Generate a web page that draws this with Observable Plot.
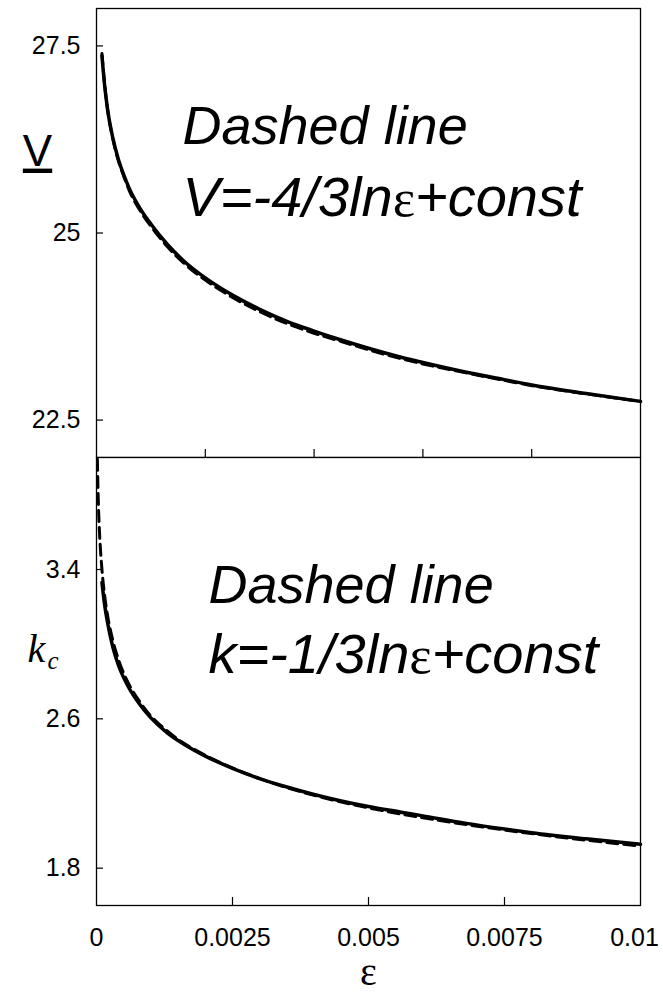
<!DOCTYPE html>
<html>
<head>
<meta charset="utf-8">
<script src="https://cdn.jsdelivr.net/npm/d3@7"></script>
<script src="https://cdn.jsdelivr.net/npm/@observablehq/plot@0.6"></script>
<style>
  body { margin: 0; background: #fff; }
  #wrap { position: relative; width: 663px; height: 998px; overflow: hidden; background: #fff; }
  #wrap svg { position: absolute; left: 0; }
</style>
</head>
<body>
<div id="wrap"></div>
<script>
// ---------- data ----------
const epsV = [0.0001, 0.00015, 0.0002, 0.0003, 0.0004, 0.0005, 0.0006, 0.0008, 0.001, 0.0013, 0.0016, 0.002, 0.0025, 0.003, 0.0035, 0.004, 0.0045, 0.005, 0.0056, 0.006, 0.0068, 0.0075, 0.008, 0.009, 0.01];
const vSolid = [27.37, 26.97, 26.67, 26.27, 25.99, 25.78, 25.60, 25.33, 25.12, 24.85, 24.63, 24.40, 24.17, 23.98, 23.82, 23.69, 23.57, 23.46, 23.34, 23.27, 23.14, 23.04, 22.97, 22.855, 22.75];
const vDashed = [27.40, 26.98, 26.67, 26.26, 25.97, 25.76, 25.57, 25.30, 25.09, 24.82, 24.60, 24.37, 24.14, 23.95, 23.79, 23.66, 23.55, 23.44, 23.32, 23.25, 23.13, 23.03, 22.96, 22.85, 22.75];

const epsK = [0.0001, 0.00015, 0.0002, 0.0003, 0.0004, 0.00057, 0.0008, 0.001, 0.0013, 0.0016, 0.002, 0.0025, 0.003, 0.0035, 0.004, 0.0045, 0.005, 0.0056, 0.006, 0.0068, 0.0075, 0.008, 0.009, 0.01];
const kSolid = [3.33, 3.21, 3.12, 2.985, 2.89, 2.78, 2.675, 2.605, 2.525, 2.465, 2.40, 2.335, 2.28, 2.235, 2.195, 2.16, 2.13, 2.10, 2.08, 2.04, 2.01, 1.99, 1.957, 1.928];
const epsKDash = [0.000016, 0.00002, 0.00003, 0.00005, 0.00007, 0.0001, 0.00015, 0.0002, 0.0003, 0.0004, 0.00057, 0.0008, 0.001, 0.0013, 0.0016, 0.002, 0.0025, 0.003, 0.004, 0.005, 0.006, 0.007, 0.008, 0.009, 0.01];
const kDashed = [3.99, 3.93, 3.80, 3.63, 3.52, 3.40, 3.26, 3.16, 3.02, 2.92, 2.80, 2.69, 2.615, 2.535, 2.47, 2.405, 2.337, 2.28, 2.19, 2.123, 2.07, 2.025, 1.985, 1.95, 1.918];

const yTicksV = [27.5, 25, 22.5];
const yLabelsV = ["27.5", "25", "22.5"];
const yTicksK = [3.4, 2.6, 1.8];
const yLabelsK = ["3.4", "2.6", "1.8"];
const xTicksTop = [0.002, 0.004, 0.006, 0.008];
const xTicksBottom = [0, 0.0025, 0.005, 0.0075, 0.01];
const xLabelsBottom = ["0", "0.0025", "0.005", "0.0075", "0.01"];

const annTop = ["Dashed line", "V=-4/3lnε+const"];
const annBottom = ["Dashed line", "k=-1/3lnε+const"];
const xTitle = "ε";
const yTitleV = "V";
const yTitleK = "k";
const yTitleKSub = "c";

// ---------- helpers ----------
const rows = (xs, ys) => xs.map((x, i) => ({x, y: ys[i]}));
const font = "'Liberation Sans', Arial, Helvetica, sans-serif";
const serif = "'Liberation Serif', 'Times New Roman', serif";
const W = 663, ML = 96, MR = 23;
const plotW = W - ML - MR;
const tickFont = 25;

function fixEps(svg) {
  d3.select(svg).selectAll("text").each(function () {
    const t = this.textContent;
    if (t.includes("ε") && t.length > 1) {
      const parts = t.split("ε");
      this.textContent = "";
      parts.forEach((p, i) => {
        if (i > 0) d3.select(this).append("tspan")
          .attr("font-family", serif).attr("font-style", "normal").attr("font-size", "0.95em").text("ε");
        d3.select(this).append("tspan").text(p);
      });
    }
  });
}

// ---------- top panel ----------
const topH = 458;
const topPlot = Plot.plot({
  width: W, height: topH,
  marginTop: 8, marginBottom: 1, marginLeft: ML, marginRight: MR,
  style: {fontFamily: font, fontSize: tickFont + "px", background: "transparent", color: "#000"},
  x: {domain: [0, 0.01], axis: null},
  y: {domain: [22, 28]},
  marks: [
    Plot.frame({stroke: "#000", strokeWidth: 1.3}),
    Plot.ruleY(yTicksV, {stroke: "#000", strokeWidth: 1.2, insetRight: plotW - 7}),
    Plot.ruleX(xTicksTop, {stroke: "#000", strokeWidth: 1.2, insetTop: (topH - 9) - 8}),
    Plot.axisY(yTicksV, {tickSize: 0, tickPadding: 16, fontSize: tickFont, tickFormat: d => yLabelsV[yTicksV.indexOf(d)], label: null}),
    Plot.line(rows(epsV, vDashed), {x: "x", y: "y", stroke: "#000", strokeWidth: 3, strokeDasharray: "11,6", curve: "monotone-x"}),
    Plot.line(rows(epsV, vSolid), {x: "x", y: "y", stroke: "#000", strokeWidth: 3.5, curve: "monotone-x"}),
    Plot.text([yTitleV], {frameAnchor: "top-left", dx: -59, dy: 143, fontSize: 44, fontFamily: font, textAnchor: "middle", lineAnchor: "middle", fill: "#000"}),
    Plot.text([annTop[0]], {frameAnchor: "top-left", dx: 86, dy: 135, fontSize: 54, fontStyle: "italic", fontFamily: font, textAnchor: "start", lineAnchor: "bottom", fill: "#000"}),
    Plot.text([annTop[1]], {frameAnchor: "top-left", dx: 86, dy: 207, fontSize: 56, fontStyle: "italic", fontFamily: font, textAnchor: "start", lineAnchor: "bottom", fill: "#000"})
  ]
});
topPlot.style.top = "0px";
d3.select(topPlot).selectAll("text").filter(function () { return this.textContent === "V"; })
  .style("text-decoration", "underline");
fixEps(topPlot);

// ---------- bottom panel ----------
const botTop = 456;
const botH = 998 - botTop;
const botPlotH = 448;
const botPlot = Plot.plot({
  width: W, height: botH,
  marginTop: 1, marginBottom: botH - 1 - botPlotH, marginLeft: ML, marginRight: MR,
  style: {fontFamily: font, fontSize: tickFont + "px", background: "transparent", color: "#000"},
  x: {domain: [0, 0.01]},
  y: {domain: [1.6, 4.0]},
  marks: [
    Plot.frame({stroke: "#000", strokeWidth: 1.3}),
    Plot.ruleY(yTicksK, {stroke: "#000", strokeWidth: 1.2, insetRight: plotW - 7}),
    Plot.ruleX(xTicksBottom.slice(1, -1), {stroke: "#000", strokeWidth: 1.2, insetTop: botPlotH - 8}),
    Plot.axisY(yTicksK, {tickSize: 0, tickPadding: 16, fontSize: tickFont, tickFormat: d => yLabelsK[yTicksK.indexOf(d)], label: null}),
    Plot.axisX(xTicksBottom, {tickSize: 0, tickPadding: 23, fontSize: tickFont, tickFormat: d => xLabelsBottom[xTicksBottom.indexOf(d)], label: null}),
    Plot.line(rows(epsKDash, kDashed), {x: "x", y: "y", stroke: "#000", strokeWidth: 3, strokeDasharray: "11,6", curve: "monotone-x", clip: true}),
    Plot.line(rows(epsK, kSolid), {x: "x", y: "y", stroke: "#000", strokeWidth: 3.5, curve: "monotone-x"}),
    Plot.text([yTitleK], {frameAnchor: "top-left", dx: -69, dy: 204, fontSize: 40, fontStyle: "italic", fontFamily: serif, textAnchor: "start", lineAnchor: "bottom", fill: "#000"}),
    Plot.text([yTitleKSub], {frameAnchor: "top-left", dx: -49, dy: 211, fontSize: 25, fontStyle: "italic", fontFamily: serif, textAnchor: "start", lineAnchor: "bottom", fill: "#000"}),
    Plot.text([annBottom[0]], {frameAnchor: "top-left", dx: 112, dy: 145, fontSize: 54, fontStyle: "italic", fontFamily: font, textAnchor: "start", lineAnchor: "bottom", fill: "#000"}),
    Plot.text([annBottom[1]], {frameAnchor: "top-left", dx: 112, dy: 215, fontSize: 56, fontStyle: "italic", fontFamily: font, textAnchor: "start", lineAnchor: "bottom", fill: "#000"}),
    Plot.text([xTitle], {frameAnchor: "bottom", dy: 67, fontSize: 40, fontFamily: serif, textAnchor: "middle", lineAnchor: "middle", fill: "#000"})
  ]
});
botPlot.style.top = botTop + "px";
fixEps(botPlot);
// keep the last x tick label ("0.01") inside the page, as in the reference
d3.select(botPlot).selectAll("text")
  .filter(function () { return this.textContent === xLabelsBottom[xLabelsBottom.length - 1]; })
  .attr("dx", -6);

const wrap = document.getElementById("wrap");
wrap.appendChild(topPlot);
wrap.appendChild(botPlot);
</script>
</body>
</html>
